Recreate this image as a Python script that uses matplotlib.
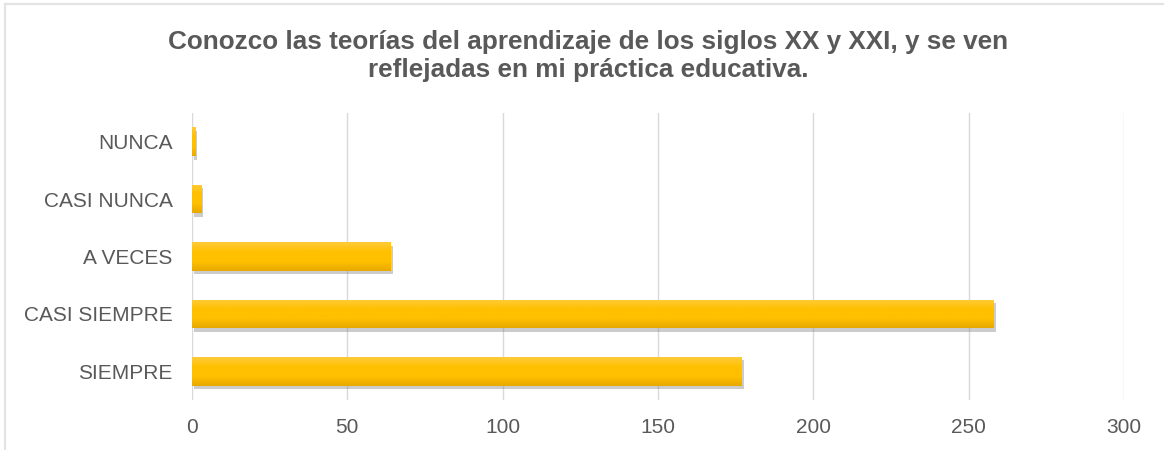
import numpy as np
import matplotlib.pyplot as plt
from matplotlib import patheffects as pe
from matplotlib.colors import LinearSegmentedColormap
from matplotlib.lines import Line2D

categories = ["SIEMPRE", "CASI SIEMPRE", "A VECES", "CASI NUNCA", "NUNCA"]
values = [177, 258, 64, 3, 1]
x_ticks = [0, 50, 100, 150, 200, 250, 300]
title = ("Conozco las teorías del aprendizaje de los siglos XX y XXI, y se ven\n"
         "reflejadas en mi práctica educativa.")

plt.rcParams['font.family'] = ['Liberation Sans', 'DejaVu Sans']
text_gray = "#595959"

fig = plt.figure(figsize=(11.64, 4.5), dpi=100)
ax = fig.add_axes([192 / 1164, 1 - 400 / 450, (1124 - 192) / 1164, (400 - 113) / 450])

y = np.arange(len(categories))
bars = ax.barh(y, values, height=0.5, color="#FFC000", zorder=3,
               path_effects=[pe.SimplePatchShadow(offset=(1.5, -2.5), shadow_rgbFace="#808080", alpha=0.4),
                             pe.Normal()])

# vertical gradient on each bar (light top, darker bottom)
grad = LinearSegmentedColormap.from_list("gold", ["#E8A900", "#FFC000", "#FFC000", "#FFCB3A"])
g = np.linspace(0, 1, 64).reshape(-1, 1)
for b in bars:
    x0, y0 = b.get_x(), b.get_y()
    w, h = b.get_width(), b.get_height()
    im = ax.imshow(g, cmap=grad, aspect="auto", extent=(x0, x0 + w, y0, y0 + h),
                   origin="lower", zorder=4, interpolation="bilinear")
    im.set_clip_path(b)

ax.set_xlim(0, 300)
ax.set_ylim(-0.5, len(categories) - 0.5)
ax.set_xticks(x_ticks)
ax.set_yticks(y)
ax.set_yticklabels(categories)
ax.tick_params(axis="both", length=0, colors=text_gray, labelsize=15)
ax.tick_params(axis="y", pad=14)
ax.tick_params(axis="x", pad=13)
ax.grid(axis="x", color="#D9D9D9", linewidth=1, zorder=0)
for s in ax.spines.values():
    s.set_visible(False)
ax.set_axisbelow(True)

fig.text(0.505, 1 - 56 / 450, title, ha="center", va="center", fontsize=18.8,
         fontweight="bold", color=text_gray, linespacing=1.2)

# light frame at left and top
fig.add_artist(Line2D([5 / 1164, 5 / 1164], [0, 1 - 4 / 450], color="#E3E3E3", lw=1.5,
                      transform=fig.transFigure))
fig.add_artist(Line2D([5 / 1164, 1], [1 - 4 / 450, 1 - 4 / 450], color="#E3E3E3", lw=1.5,
                      transform=fig.transFigure))

fig.savefig("out.png", dpi=100, facecolor="white")
